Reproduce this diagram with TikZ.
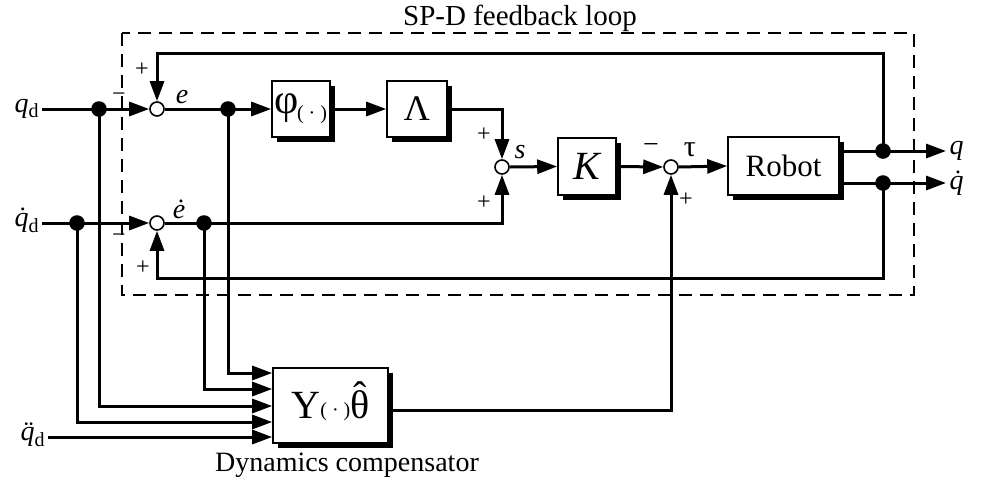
\documentclass[tikz,border=0pt]{standalone}
\usepackage{fontspec}
\setmainfont{Liberation Serif}
\usetikzlibrary{arrows.meta,shadows}
\newcommand\acctop[3]{\ooalign{#1\cr\hidewidth\kern#3\raisebox{#2}{˙}\hidewidth\cr}}
\newcommand\accdd[3]{\ooalign{#1\cr\hidewidth\kern#3\raisebox{#2}{¨}\hidewidth\cr}}
\newcommand\acchat[3]{\ooalign{#1\cr\hidewidth\kern#3\raisebox{#2}{ˆ}\hidewidth\cr}}
\begin{document}
\begin{tikzpicture}[x=0.5pt,y=-0.5pt,line width=1.5pt,
  sig/.style={-{Triangle[length=10pt,width=7pt]}},
  blk/.style={draw,line width=0.8pt,fill=white,inner sep=0pt,
    general shadow={fill=black,shadow xshift=2.5pt,shadow yshift=-2.5pt}},
  sumc/.style={circle,draw,fill=white,line width=0.8pt,minimum size=7pt,inner sep=0pt},
  lbl/.style={inner sep=1pt,font=\fontsize{14}{16}\selectfont},
  pm/.style={inner sep=0pt,font=\fontsize{12}{14}\selectfont},
  dot/.style={fill=black}]
\useasboundingbox (0,0) rectangle (984,483);
% dashed loop box and titles
\draw[line width=0.75pt,dash pattern=on 6.5pt off 4pt] (122,33) rectangle (914,295);
\node[lbl,font=\fontsize{14.5}{16}\selectfont] (title) at (520,18) {SP-D feedback loop};
\node[lbl,font=\fontsize{14}{16}\selectfont] (dyn) at (347,465) {Dynamics compensator};
% blocks
\node[blk,minimum width=29pt,minimum height=28pt] (phi) at (301,109) {\fontsize{21}{21}\selectfont φ\kern-0.05em\raisebox{-0.3ex}{\fontsize{10}{10}\selectfont( · )}};
\node[blk,minimum width=30pt,minimum height=28pt] (lam) at (417,109) {\fontsize{18}{18}\selectfont Λ};
\node[blk,minimum width=29pt,minimum height=28.5pt] (K) at (587,166.5) {\fontsize{20}{20}\selectfont\itshape K};
\node[blk,minimum width=55.5pt,minimum height=29pt] (rob) at (783.5,166) {\fontsize{15.5}{16}\selectfont Robot};
\node[blk,minimum width=57.5pt,minimum height=37.5pt] (Y) at (330.5,405.5) {\fontsize{20}{20}\selectfont Y\raisebox{0.1ex}{\fontsize{10}{10}\selectfont( · )}\acchat{θ}{0.22em}{0em}};
% summing junctions
\node[sumc] (sE) at (157,109) {};
\node[sumc] (sEd) at (157,223) {};
\node[sumc] (sS) at (502,167) {};
\node[sumc] (sT) at (671,167) {};
% inputs and outputs
\node[lbl,anchor=east] (qd) at (42,109) {\textit{q}\raisebox{-0.4ex}{\fontsize{10}{10}\selectfont d}};
\node[lbl,anchor=east] (qdd) at (42,223) {\acctop{\textit{q}}{0em}{0.1em}\raisebox{-0.4ex}{\fontsize{10}{10}\selectfont d}};
\node[lbl,anchor=east] (qddd) at (48,437) {\accdd{\textit{q}}{0em}{0.1em}\raisebox{-0.4ex}{\fontsize{10}{10}\selectfont d}};
\node[lbl,anchor=west] (qo) at (946,151) {\textit{q}};
\node[lbl,anchor=west] (qdo) at (946,183) {\acctop{\textit{q}}{0em}{0.1em}};
% helper coordinates
\coordinate (dA) at (99,109);
\coordinate (dB) at (228,109);
\coordinate (dC) at (77,223);
\coordinate (dD) at (204,223);
\coordinate (dE) at (883,151);
\coordinate (dF) at (883,183);
\coordinate (top) at (0,53);
\coordinate (bot) at (0,278);
\coordinate (r1) at (0,373);
\coordinate (r2) at (0,389);
\coordinate (r3) at (0,406);
\coordinate (r4) at (0,422);
\coordinate (r5) at (0,437);
\coordinate (r0) at (0,410);
% connectors
\draw[sig] (qd.east) -- (sE.west);
\draw[sig] (qdd.east) -- (sEd.west);
\draw[sig] (sE.east) -- (phi.west);
\draw[sig] (phi.east) -- (lam.west);
\draw[sig] (lam.east) -| (sS.north);
\draw[sig] (sEd.east) -| (sS.south);
\draw[sig] (sS.east) -- (K.west);
\draw[sig] (K.east) -- (sT.west);
\draw[sig] (sT.east) -- (rob.west);
\draw[sig] (rob.east |- dE) -- (qo.west);
\draw[sig] (rob.east |- dF) -- (qdo.west);
\draw[sig] (dE) -- (dE |- top) -| (sE.north);
\draw[sig] (dF) -- (dF |- bot) -| (sEd.south);
\draw[sig] (dB) |- (Y.west |- r1);
\draw[sig] (dD) |- (Y.west |- r2);
\draw[sig] (dA) |- (Y.west |- r3);
\draw[sig] (dC) |- (Y.west |- r4);
\draw[sig] (qddd.east) -- (Y.west |- r5);
\draw[sig] (Y.east |- r0) -| (sT.south);
% junction dots
\foreach \d in {dA,dB,dC,dD,dE,dF} \fill[dot] (\d) circle[radius=3.9pt];
% signal labels
\node[lbl] (le) at (182,97) {\textit{e}};
\node[lbl] (led) at (179,212) {\acctop{\textit{e}}{0em}{0.15em}};
\node[lbl] (ls) at (520,152) {\textit{s}};
\node[lbl,font=\fontsize{15}{16}\selectfont] (ltau) at (690,150) {τ};
% signs
\node[pm] (p1) at (142,70) {+};
\node[pm] (m1) at (119,97) {−};
\node[pm] (m2) at (119,238) {−};
\node[pm] (p2) at (143,268) {+};
\node[pm] (p3) at (484,135) {+};
\node[pm] (p4) at (484,203) {+};
\node[pm,font=\fontsize{14}{14}\selectfont] (m3) at (651,148) {−};
\node[pm] (p5) at (686,200) {+};
\end{tikzpicture}
\end{document}
